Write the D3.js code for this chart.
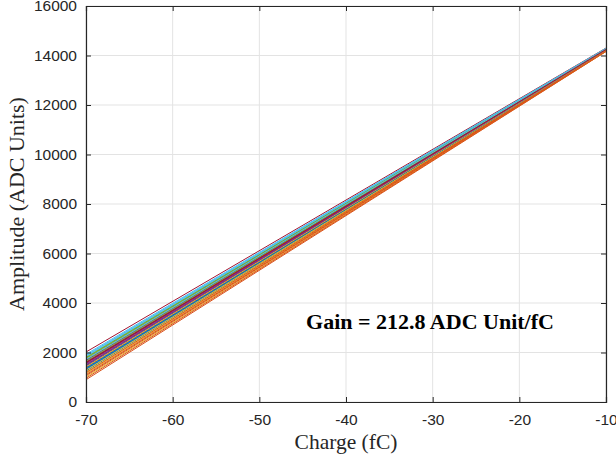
<!DOCTYPE html>
<html>
<head>
<meta charset="utf-8">
<script src="https://cdn.jsdelivr.net/npm/d3@7"></script>
<style>
  body { margin: 0; background: #fff; }
  svg { display: block; }
</style>
</head>
<body>
<svg id="chart" width="616" height="461"></svg>
<script>
// data: one straight line per channel, from -70 fC to -10 fC
const chargePoints = [-70, -10];
const ampAtMinus70 = [1450, 900, 1010, 1560, 1700, 1890, 2020, 1340, 960, 1140, 1620, 1780,
                      1830, 1500, 1250, 1060, 1210, 1680, 1750, 1930, 1400, 1310, 1100, 1280,
                      1530, 1800, 1860, 1600, 1370, 1180, 1420, 1480, 1650, 1720, 1580];
const ampAtMinus10 = [14230, 14160, 14170, 14240, 14260, 14280, 14300, 14215, 14165, 14190, 14250, 14270,
                      14275, 14235, 14205, 14180, 14200, 14255, 14265, 14290, 14225, 14210, 14185, 14205,
                      14240, 14270, 14280, 14245, 14220, 14195, 14225, 14235, 14250, 14260, 14245];
const xTicks = [-70, -60, -50, -40, -30, -20, -10];
const yTicks = [0, 2000, 4000, 6000, 8000, 10000, 12000, 14000, 16000];
const lineColors = ['#0072BD', '#D95319', '#EDB120', '#7E2F8E', '#77AC30', '#4DBEEE', '#A2142F'];

const svg = d3.select('#chart');
const plotLeft = 86, plotRight = 606, plotTop = 6, plotBottom = 402;

const x = d3.scaleLinear().domain([-70, -10]).range([plotLeft, plotRight]);
const y = d3.scaleLinear().domain([0, 16000]).range([plotBottom, plotTop]);

// grid
const grid = svg.append('g').attr('stroke', '#e3e3e3').attr('stroke-width', 1);
xTicks.forEach(t => {
    grid.append('line').attr('x1', x(t)).attr('x2', x(t)).attr('y1', plotTop).attr('y2', plotBottom);
});
yTicks.forEach(t => {
    grid.append('line').attr('x1', plotLeft).attr('x2', plotRight).attr('y1', y(t)).attr('y2', y(t));
});

// channel lines
const series = ampAtMinus70.map((v, i) => [[chargePoints[0], v], [chargePoints[1], ampAtMinus10[i]]]);
const line = d3.line().x(d => x(d[0])).y(d => y(d[1]));
svg.append('g')
    .selectAll('path')
    .data(series)
    .enter().append('path')
    .attr('d', line)
    .attr('fill', 'none')
    .attr('stroke', (d, i) => lineColors[i % lineColors.length])
    .attr('stroke-width', 1);

// axes (MATLAB style: box, ticks inward on all sides)
const axisColor = '#262626';
const tickFont = '"Liberation Sans", Arial, sans-serif';
const plainNum = d => String(d); // keeps the ascii hyphen like the original

const xAxis = svg.append('g').attr('transform', `translate(0,${plotBottom})`)
    .call(d3.axisBottom(x).tickValues(xTicks).tickSize(-5).tickPadding(12).tickFormat(plainNum));
const yAxis = svg.append('g').attr('transform', `translate(${plotLeft},0)`)
    .call(d3.axisLeft(y).tickValues(yTicks).tickSize(-5).tickPadding(9).tickFormat(plainNum));
const xTop = svg.append('g').attr('transform', `translate(0,${plotTop})`)
    .call(d3.axisTop(x).tickValues(xTicks).tickSize(-5).tickFormat(''));
const yRight = svg.append('g').attr('transform', `translate(${plotRight},0)`)
    .call(d3.axisRight(y).tickValues(yTicks).tickSize(-5).tickFormat(''));

[xAxis, yAxis, xTop, yRight].forEach(a => {
    a.selectAll('.domain').attr('stroke', axisColor).attr('stroke-width', 1.2);
    a.selectAll('.tick line').attr('stroke', axisColor).attr('stroke-width', 1);
    a.selectAll('text').attr('fill', axisColor).style('font-family', tickFont).style('font-size', '15.5px');
});

// labels
svg.append('text')
    .attr('x', (plotLeft + plotRight) / 2)
    .attr('y', 449)
    .attr('text-anchor', 'middle')
    .style('font-family', '"Liberation Serif", "Times New Roman", serif')
    .style('font-size', '21.5px')
    .attr('fill', axisColor)
    .text('Charge (fC)');

svg.append('text')
    .attr('transform', `translate(24,${(plotTop + plotBottom) / 2}) rotate(-90)`)
    .attr('text-anchor', 'middle')
    .style('font-family', '"Liberation Serif", "Times New Roman", serif')
    .style('font-size', '22px')
    .attr('fill', axisColor)
    .text('Amplitude (ADC Units)');

svg.append('text')
    .attr('x', 430)
    .attr('y', 329)
    .attr('text-anchor', 'middle')
    .style('font-family', '"Liberation Serif", "Times New Roman", serif')
    .style('font-size', '22px')
    .style('font-weight', 'bold')
    .attr('fill', '#000')
    .text('Gain = 212.8 ADC Unit/fC');
</script>
</body>
</html>
